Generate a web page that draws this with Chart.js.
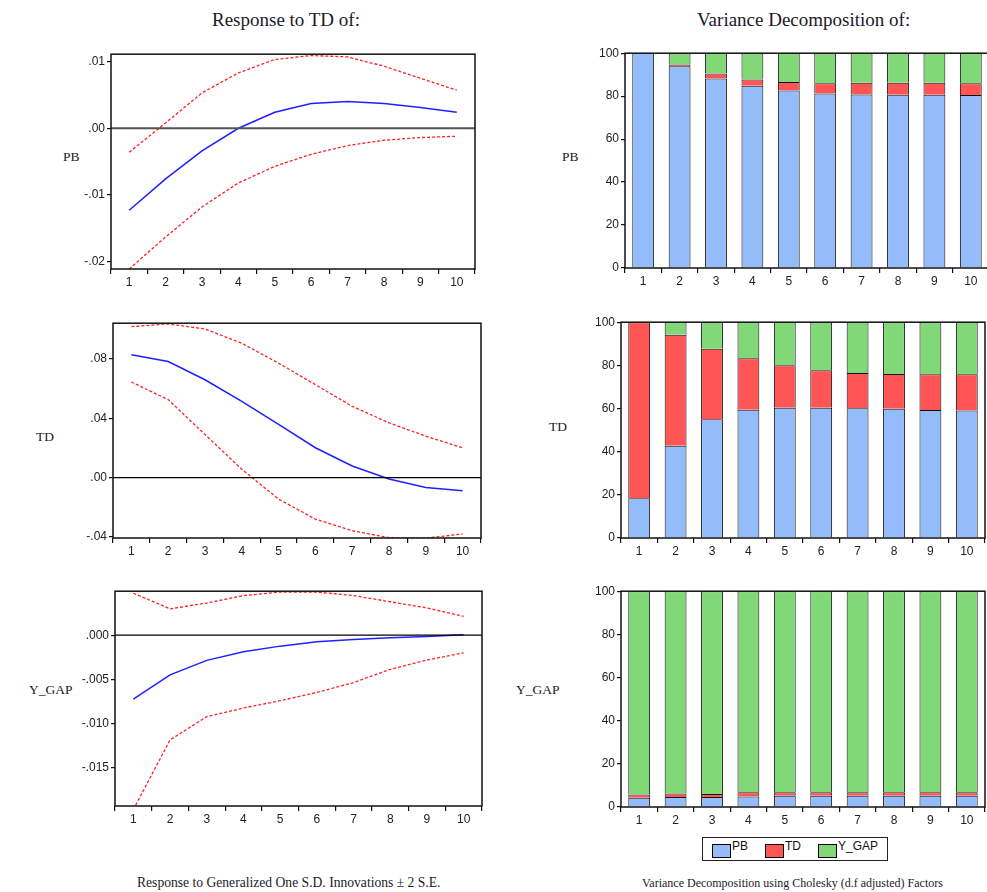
<!DOCTYPE html>
<html>
<head>
<meta charset="utf-8">
<script src="https://cdn.jsdelivr.net/npm/chart.js@4.4.1/dist/chart.umd.min.js"></script>
<style>
  body { margin:0; background:#fff; width:987px; height:892px; position:relative; overflow:hidden; }
  canvas { position:absolute; }
  .txt { position:absolute; font-family:"Liberation Serif", "DejaVu Serif", serif; color:#1a1a2a; white-space:nowrap; }
  .title { font-size:19px; }
  .row { font-size:13.5px; }
  #legend { position:absolute; left:702px; top:837px; width:184px; height:22px; border:1.5px solid #222;
            font-family:"Liberation Sans", Arial, sans-serif; font-size:12px; color:#111; }
  #legend span.sw { position:absolute; top:6px; width:17px; height:12px; border:1px solid #000; }
  #legend span.lb { position:absolute; top:1px; }
</style>
</head>
<body>

<div class="txt title" style="left:212px;top:9px;">Response to TD of:</div>
<div class="txt title" style="left:697px;top:9px;">Variance Decomposition of:</div>

<div class="txt row" style="left:63px;top:149px;">PB</div>
<div class="txt row" style="left:36px;top:429px;">TD</div>
<div class="txt row" style="left:29px;top:682px;">Y_GAP</div>
<div class="txt row" style="left:562px;top:149px;">PB</div>
<div class="txt row" style="left:549px;top:419px;">TD</div>
<div class="txt row" style="left:516px;top:682px;">Y_GAP</div>

<div class="txt" style="left:137px;top:875px;font-size:13.6px;">Response to Generalized One S.D. Innovations ± 2 S.E.</div>
<div class="txt" style="left:642px;top:876px;font-size:12px;">Variance Decomposition using Cholesky (d.f adjusted) Factors</div>

<div id="legend"></div>

<canvas id="l1"></canvas>
<canvas id="l2"></canvas>
<canvas id="l3"></canvas>
<canvas id="r1"></canvas>
<canvas id="r2"></canvas>
<canvas id="r3"></canvas>

<script>
// periods on the x axis
const steps = ['1','2','3','4','5','6','7','8','9','10'];

// impulse responses (response of each variable to TD), with +/- 2 S.E. bands
const pbResp  = [-0.0123,-0.0076,-0.0034,0.0000,0.0024,0.0037,0.0040,0.0037,0.0031,0.0024];
const pbUpper = [-0.0036,0.0008,0.0053,0.0083,0.0103,0.0109,0.0107,0.0093,0.0075,0.0057];
const pbLower = [-0.0211,-0.0163,-0.0118,-0.0082,-0.0057,-0.0039,-0.0026,-0.0018,-0.0014,-0.0012];

const tdResp  = [0.0827,0.0782,0.0659,0.0514,0.0358,0.0201,0.0078,-0.0010,-0.0067,-0.0089];
const tdUpper = [0.1017,0.1035,0.1001,0.0905,0.0771,0.0626,0.0480,0.0369,0.0279,0.0201];
const tdLower = [0.0644,0.0525,0.0290,0.0056,-0.0145,-0.0280,-0.0358,-0.0405,-0.0408,-0.0380];

const ygResp  = [-0.00726,-0.00451,-0.00286,-0.00188,-0.00124,-0.00075,-0.00049,-0.00030,-0.00015,0.00005];
const ygUpper = [0.00477,0.00300,0.00365,0.00450,0.00490,0.00490,0.00450,0.00380,0.00310,0.00214];
const ygLower = [-0.0198,-0.0119,-0.00925,-0.00827,-0.00744,-0.00650,-0.00538,-0.00387,-0.00282,-0.00200];

// y ticks of the response panels
const pbTicks = [0.01, 0, -0.01, -0.02];
const tdTicks = [0.08, 0.04, 0, -0.04];
const ygTicks = [0, -0.005, -0.010, -0.015];
const pctTicks = [0, 20, 40, 60, 80, 100];

// variance decomposition shares (%)
const seriesNames = ['PB', 'TD', 'Y_GAP'];
const seriesColors = ['#94BBFA', '#FF5555', '#80D877'];

const vdPB_pb = [100,93.9,88.2,84.8,82.6,81.2,80.8,80.6,80.6,80.5];
const vdPB_td = [0,0.8,2.3,2.9,4.0,4.8,5.4,5.6,5.6,5.5];
const vdPB_yg = [0,5.3,9.5,12.3,13.4,14.0,13.8,13.8,13.8,14.0];

const vdTD_pb = [18.4,42.7,55.0,59.4,60.4,60.4,60.1,59.9,59.3,59.1];
const vdTD_td = [81.6,51.5,32.7,23.9,19.6,17.3,16.4,16.1,16.6,16.8];
const vdTD_yg = [0,5.8,12.3,16.7,20.0,22.3,23.5,24.0,24.1,24.1];

const vdYG_pb = [4.3,4.6,4.6,4.9,5.2,5.2,5.2,5.2,5.2,5.2];
const vdYG_td = [1.5,1.6,1.4,1.9,1.6,1.6,1.6,1.6,1.6,1.6];
const vdYG_yg = [94.2,93.8,94.0,93.2,93.2,93.2,93.2,93.2,93.2,93.2];

// layout helpers
const PAD_L = 60, PAD_T = 8, PAD_R = 8, PAD_B = 30;
const tickFont = { family: '"Liberation Sans", Arial, sans-serif', size: 12 };

// frame round the plot + optional zero line
const framePlugin = {
    id: 'frame',
    afterDraw(chart, args, opts) {
        const ctx = chart.ctx, a = chart.chartArea;
        ctx.save();
        if (opts.zero) {
            const y = chart.scales.y.getPixelForValue(0);
            ctx.strokeStyle = opts.zeroColor || '#000';
            ctx.lineWidth = opts.zeroWidth || 1;
            ctx.beginPath();
            ctx.moveTo(a.left, y);
            ctx.lineTo(a.right, y);
            ctx.stroke();
        }
        ctx.strokeStyle = '#111';
        ctx.lineWidth = 1.5;
        ctx.strokeRect(a.left, a.top, a.right - a.left, a.bottom - a.top);
        ctx.restore();
    }
};

function placeCanvas(id, left, top, right, bottom) {
    const c = document.getElementById(id);
    const w = right - left + PAD_L + PAD_R;
    const h = bottom - top + PAD_T + PAD_B;
    c.width = w; c.height = h;
    c.style.left = (left - PAD_L) + 'px';
    c.style.top = (top - PAD_T) + 'px';
    c.style.width = w + 'px'; c.style.height = h + 'px';
    return c.getContext('2d');
}

function xScale(stacked) {
    return {
        type: 'category',
        offset: true,
        stacked: stacked,
        grid: { display: true, offset: true, drawOnChartArea: false, drawTicks: true, tickLength: 5, color: '#111', lineWidth: 1.2 },
        border: { display: false },
        ticks: { font: tickFont, color: '#222', padding: 1, maxRotation: 0, autoSkip: false },
        afterFit: s => { s.height = PAD_B; }
    };
}

function yScale(min, max, tickValues, fmt, stacked) {
    return {
        min: min, max: max,
        stacked: stacked,
        grid: { display: true, drawOnChartArea: false, drawTicks: true, tickLength: 4, color: '#111', lineWidth: 1.2 },
        border: { display: false },
        afterBuildTicks: s => { s.ticks = tickValues.map(v => ({ value: v })); },
        ticks: { font: tickFont, color: '#222', padding: 2, callback: fmt },
        afterFit: s => { s.width = PAD_L; }
    };
}

function dotFmt(dec) {
    return v => {
        let t = Number(v).toFixed(dec);
        return t.replace('0.', '.');
    };
}

function responseChart(id, rect, resp, upper, lower, yMin, yMax, ticks, dec, zeroColor, zeroWidth) {
    const ctx = placeCanvas(id, rect[0], rect[1], rect[2], rect[3]);
    const lineBase = { pointRadius: 0, tension: 0, fill: false };
    new Chart(ctx, {
        type: 'line',
        data: {
            labels: steps,
            datasets: [
                Object.assign({ data: upper, borderColor: '#FF2020', borderWidth: 1.3, borderDash: [3, 2] }, lineBase),
                Object.assign({ data: resp, borderColor: '#2020FF', borderWidth: 1.5 }, lineBase),
                Object.assign({ data: lower, borderColor: '#FF2020', borderWidth: 1.3, borderDash: [3, 2] }, lineBase)
            ]
        },
        options: {
            responsive: false,
            animation: false,
            layout: { padding: { top: PAD_T, right: PAD_R, left: 0, bottom: 0 } },
            plugins: { legend: { display: false }, tooltip: { enabled: false },
                       frame: { zero: true, zeroColor: zeroColor, zeroWidth: zeroWidth } },
            scales: { x: xScale(false), y: yScale(yMin, yMax, ticks, dotFmt(dec), false) }
        },
        plugins: [framePlugin]
    });
}

function varianceChart(id, rect, pb, td, yg) {
    const ctx = placeCanvas(id, rect[0], rect[1], rect[2], rect[3]);
    const sets = [pb, td, yg].map((d, i) => ({
        label: seriesNames[i],
        data: d,
        backgroundColor: seriesColors[i],
        borderColor: '#111',
        borderWidth: 1,
        borderSkipped: 'bottom',
        inflateAmount: 0,
        barPercentage: 0.6,
        categoryPercentage: 1.0
    }));
    new Chart(ctx, {
        type: 'bar',
        data: { labels: steps, datasets: sets },
        options: {
            responsive: false,
            animation: false,
            layout: { padding: { top: PAD_T, right: PAD_R, left: 0, bottom: 0 } },
            plugins: { legend: { display: false }, tooltip: { enabled: false }, frame: {} },
            scales: { x: xScale(true), y: yScale(0, 100, pctTicks, v => String(v), true) }
        },
        plugins: [framePlugin]
    });
}

responseChart('l1', [111, 53, 475, 269], pbResp, pbUpper, pbLower, -0.0211, 0.0111, pbTicks, 2, '#555', 2);
responseChart('l2', [113, 322, 481, 538], tdResp, tdUpper, tdLower, -0.0407, 0.104, tdTicks, 2, '#000', 1.2);
responseChart('l3', [115, 590, 482, 806], ygResp, ygUpper, ygLower, -0.0194, 0.005, ygTicks, 3, '#000', 1.2);

varianceChart('r1', [625, 52, 989, 268], vdPB_pb, vdPB_td, vdPB_yg);
varianceChart('r2', [621, 321, 985, 538], vdTD_pb, vdTD_td, vdTD_yg);
varianceChart('r3', [621, 590, 985, 807], vdYG_pb, vdYG_td, vdYG_yg);

// legend box built from the series names
const lg = document.getElementById('legend');
const swLeft = [9, 62, 115];
const lbLeft = [29, 82, 135];
seriesNames.forEach((n, i) => {
    const sw = document.createElement('span');
    sw.className = 'sw';
    sw.style.left = swLeft[i] + 'px';
    sw.style.background = seriesColors[i];
    lg.appendChild(sw);
    const lb = document.createElement('span');
    lb.className = 'lb';
    lb.style.left = lbLeft[i] + 'px';
    lb.textContent = n;
    lg.appendChild(lb);
});
</script>
</body>
</html>
